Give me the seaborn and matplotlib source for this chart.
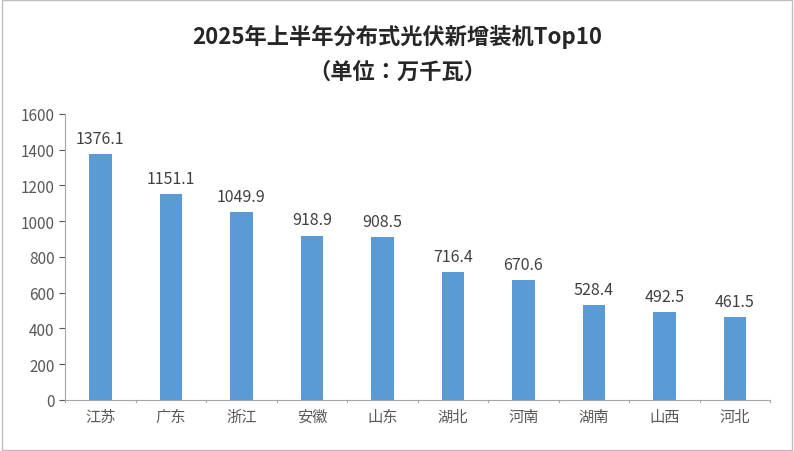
import matplotlib.pyplot as plt
from matplotlib import font_manager as fm
import seaborn as sns
import pandas as pd

provinces = ["江苏", "广东", "浙江", "安徽", "山东", "湖北", "河南", "湖南", "山西", "河北"]
capacity = [1376.1, 1151.1, 1049.9, 918.9, 908.5, 716.4, 670.6, 528.4, 492.5, 461.5]
y_ticks = [0, 200, 400, 600, 800, 1000, 1200, 1400, 1600]

# locate a CJK font actually known to matplotlib
cjk = [f.name for f in fm.fontManager.ttflist if "CJK" in f.name]
if not cjk:
    for path in fm.findSystemFonts():
        if "CJK" in path or "cjk" in path.lower():
            try:
                fm.fontManager.addfont(path)
            except Exception:
                pass
    cjk = [f.name for f in fm.fontManager.ttflist if "CJK" in f.name]
cjk_name = next((n for n in cjk if "SC" in n), cjk[0] if cjk else "DejaVu Sans")
plt.rcParams["font.family"] = [cjk_name, "DejaVu Sans"]

df = pd.DataFrame({"province": provinces, "capacity": capacity})

fig = plt.figure(figsize=(7.94, 4.52), dpi=100)
ax = fig.add_axes([0.082, 0.113, 0.888, 0.633])
sns.barplot(data=df, x="province", y="capacity", color="#5B9BD5", width=0.32,
            saturation=1, ax=ax)

for i, v in enumerate(capacity):
    ax.text(i, v + 40, f"{v:.1f}", ha="center", va="bottom", fontsize=11.5, color="#404040")

ax.set_ylim(0, 1600)
ax.set_yticks(y_ticks)
ax.set_xlim(-0.5, len(provinces) - 0.5)
ax.set_xlabel("")
ax.set_ylabel("")
ax.tick_params(axis="both", labelsize=11, colors="#595959", length=4)
ax.tick_params(axis="x", length=0, pad=6)
for s in ["top", "right"]:
    ax.spines[s].set_visible(False)
for s in ["left", "bottom"]:
    ax.spines[s].set_color("#A6A6A6")
for i in range(len(provinces) + 1):
    ax.plot([i - 0.5, i - 0.5], [0, -12], color="#A6A6A6", lw=0.8, clip_on=False)

fig.text(0.5, 0.918, "2025年上半年分布式光伏新增装机Top10", ha="center", va="center",
         fontsize=16, fontweight="bold", color="#262626")
fig.text(0.5, 0.84, "（单位：万千瓦）", ha="center", va="center",
         fontsize=16, fontweight="bold", color="#262626")

fig.patches.append(plt.Rectangle((0.002, 0.003), 0.996, 0.994, transform=fig.transFigure,
                                 fill=False, edgecolor="#BFBFBF", lw=1))
fig.savefig("out.png", dpi=100)
